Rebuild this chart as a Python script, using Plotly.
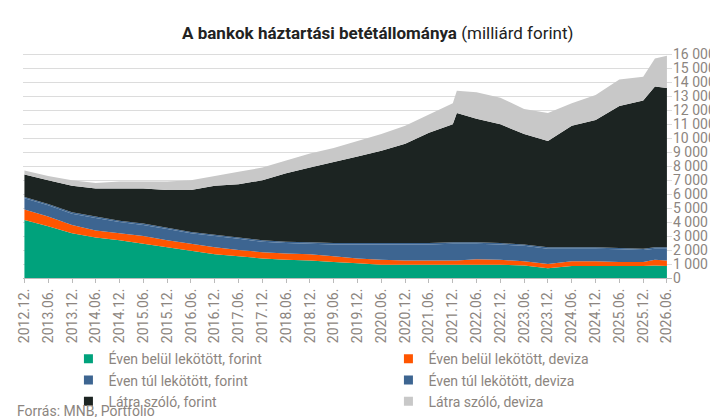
import plotly.graph_objects as go

dates = ["2012-12", "2013-06", "2013-12", "2014-06", "2014-12", "2015-06", "2015-12",
         "2016-06", "2016-12", "2017-06", "2017-12", "2018-06", "2018-12", "2019-06",
         "2019-12", "2020-06", "2020-12", "2021-06", "2021-12", "2022-01", "2022-06",
         "2022-12", "2023-06", "2023-12", "2024-06", "2024-12", "2025-06", "2025-12",
         "2026-03", "2026-06"]

# cumulative tops
top_green = [4150, 3700, 3200, 2900, 2700, 2450, 2200, 1950, 1700, 1550, 1400, 1300, 1250, 1150,
             1050, 950, 950, 950, 950, 950, 950, 950, 900, 700, 850, 850, 850, 850, 900, 850]
top_orange = [4900, 4400, 3800, 3400, 3200, 3000, 2700, 2450, 2200, 2000, 1850, 1750, 1700, 1550,
              1400, 1300, 1250, 1250, 1250, 1250, 1350, 1300, 1200, 1000, 1200, 1200, 1150, 1150, 1300, 1250]
top_blue_huf = [5700, 5200, 4600, 4300, 4000, 3800, 3500, 3200, 3000, 2800, 2600, 2500, 2450, 2400,
                2400, 2400, 2400, 2400, 2450, 2450, 2450, 2400, 2300, 2100, 2100, 2100, 2050, 2000, 2100, 2100]
top_blue_fx = [5800, 5300, 4700, 4400, 4100, 3900, 3600, 3300, 3100, 2900, 2700, 2600, 2550, 2500,
               2500, 2500, 2500, 2500, 2550, 2550, 2550, 2500, 2400, 2200, 2200, 2200, 2150, 2100, 2200, 2200]
top_black = [7400, 7000, 6600, 6400, 6400, 6400, 6300, 6300, 6600, 6700, 7000, 7500, 7900, 8300,
             8700, 9100, 9600, 10400, 11000, 11800, 11400, 11000, 10300, 9800, 10900, 11300, 12300, 12700, 13700, 13600]
top_grey = [7700, 7300, 7000, 6800, 6900, 6900, 6900, 7000, 7300, 7600, 7900, 8400, 8900, 9300,
            9800, 10300, 10900, 11700, 12500, 13400, 13300, 12900, 12100, 11800, 12500, 13100, 14200, 14400, 15700, 15900]

tops = [top_green, top_orange, top_blue_huf, top_blue_fx, top_black, top_grey]
names = ["Éven belül lekötött, forint", "Éven belül lekötött, deviza",
         "Éven túl lekötött, forint", "Éven túl lekötött, deviza",
         "Látra szóló, forint", "Látra szóló, deviza"]
colors = ["#00a27c", "#ff5500", "#3d6591", "#3d6591", "#1c2422", "#c8c8c8"]

tick_dates = [f"{y}-{m}" for y in range(2012, 2027) for m in ("06", "12")][1:-1]
tick_text = [d.replace("-", ".") + "." for d in tick_dates]

fig = go.Figure()
prev = [0] * len(dates)
for name, top, col in zip(names, tops, colors):
    vals = [t - p for t, p in zip(top, prev)]
    fig.add_trace(go.Scatter(x=dates, y=vals, name=name, stackgroup="one", mode="none",
                             fillcolor=col, showlegend=False))
    prev = top

# small square legend markers
for name, col in zip(names, colors):
    fig.add_trace(go.Scatter(x=[None], y=[None], name=name, mode="markers",
                             marker=dict(symbol="square", size=9, color=col)))

fig.update_layout(
    width=718, height=417,
    font=dict(family="Roboto", color="#8c8580", size=14),
    plot_bgcolor="white", paper_bgcolor="white",
    margin=dict(l=8, r=54, t=45, b=143),
    title=dict(text="<b>A bankok háztartási betétállománya</b> (milliárd forint)",
               x=0.515, xanchor="center", y=0.955, font=dict(size=17, color="#222")),
    legend=dict(orientation="h", x=0.07, y=-0.29, xanchor="left", yanchor="top",
                entrywidth=275, traceorder="normal", font=dict(size=14),
                itemwidth=30, tracegroupgap=0),
    separators=", ",
)
fig.update_xaxes(tickvals=tick_dates, ticktext=tick_text, tickangle=-90,
                 range=["2012-11-20", "2026-07-10"], showgrid=False,
                 ticks="outside", ticklen=4, tickcolor="#bbb",
                 showline=True, linecolor="#bbb")
fig.update_yaxes(side="right", range=[0, 16100], dtick=1000, tickformat=",",
                 gridcolor="#dcdcdc", zeroline=False)
fig.add_annotation(text="Forrás: MNB, Portfolio", xref="paper", yref="paper",
                   x=-0.012, y=-0.545, xanchor="left", yanchor="top", showarrow=False,
                   font=dict(size=14))

fig.write_html("out.html")
